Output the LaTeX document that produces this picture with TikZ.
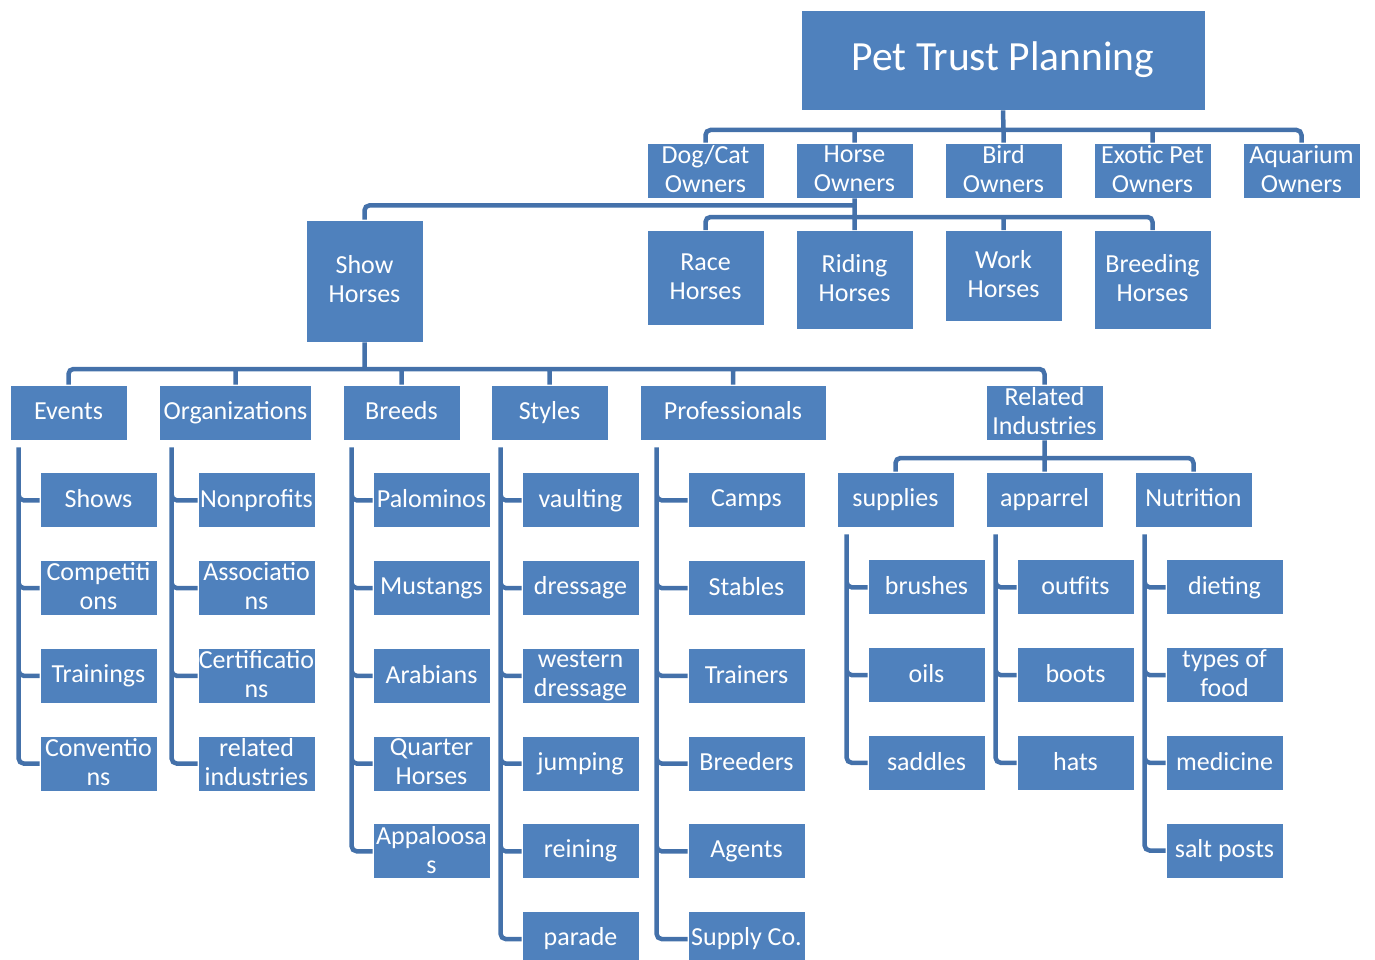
\documentclass[tikz,border=0pt]{standalone}
\usepackage{fontspec}
\setmainfont{Carlito}
\usetikzlibrary{positioning}
\definecolor{boxblue}{HTML}{4F81BD}
\definecolor{linkblue}{HTML}{4471AA}
\newcommand\boxstrut{\rule[-0.13em]{0pt}{0.77em}}

\begin{document}
\begin{tikzpicture}[x=1pt, y=-1pt,
    box/.style={draw=white, line width=0.75pt, fill=boxblue, text=white, align=center,
        inner sep=0pt, minimum width=117pt, minimum height=55pt,
        font=\fontsize{26}{29}\selectfont,
        execute at begin node=\boxstrut, execute at end node=\boxstrut},
    link/.style={draw=linkblue, line width=4.5pt, rounded corners=5pt}]
    \useasboundingbox (0,0) rectangle (1375,960);

    \node[box, minimum width=404pt, minimum height=100pt, font=\fontsize{41.5}{48}\selectfont] (pet) at (1003,60) {Pet Trust Planning};
    \node[box] (dogcat) at (705.5,170.5) {Dog/Cat\\Owners};
    \node[box, right=31.25pt of dogcat] (horse) {Horse\\Owners};
    \node[box, right=31.25pt of horse] (bird) {Bird\\Owners};
    \node[box, right=31.25pt of bird] (exotic) {Exotic Pet\\Owners};
    \node[box, right=31.25pt of exotic] (aquarium) {Aquarium\\Owners};

    \node[box, minimum height=122pt] (show) at (364.5,281) {Show\\Horses};
    \node[box, anchor=north, minimum height=95pt] (race) at (705.5,230) {Race\\Horses};
    \node[box, anchor=north, minimum height=99pt] (riding) at (854.5,230) {Riding\\Horses};
    \node[box, anchor=north, minimum height=91pt] (work) at (1003.5,230) {Work\\Horses};
    \node[box, anchor=north, minimum height=99pt] (breeding) at (1152.5,230) {Breeding\\Horses};

    \node[box] (events) at (68.5,412.5) {Events};
    \node[box, minimum width=152pt] (orgs) at (235.5,412.5) {Organizations};
    \node[box] (breeds) at (401.5,412.5) {Breeds};
    \node[box] (styles) at (549.5,412.5) {Styles};
    \node[box, minimum width=186pt] (pros) at (733,412.5) {Professionals};
    \node[box] (related) at (1044.5,412.5) {Related\\Industries};
    \node[box] (supplies) at (895.5,499.5) {supplies};
    \node[box] (apparrel) at (1044.5,499.5) {apparrel};
    \node[box] (nutrition) at (1193.5,499.5) {Nutrition};

    % events
    \node[box, below right=32pt and 30pt of events.south west] (shows) {Shows};
    \node[box, below=32pt of shows] (comps) {Competiti\\ons};
    \node[box, below=32pt of comps] (trainings) {Trainings};
    \node[box, below=32pt of trainings] (convs) {Conventio\\ns};
    % organizations
    \node[box, below right=32pt and 38.5pt of orgs.south west] (nonprofits) {Nonprofits};
    \node[box, below=32pt of nonprofits] (assocs) {Associatio\\ns};
    \node[box, below=32pt of assocs] (certs) {Certificatio\\ns};
    \node[box, below=32pt of certs] (relind) {related\\industries};
    % breeds
    \node[box, below right=32pt and 30pt of breeds.south west] (palominos) {Palominos};
    \node[box, below=32pt of palominos] (mustangs) {Mustangs};
    \node[box, below=32pt of mustangs] (arabians) {Arabians};
    \node[box, below=32pt of arabians] (quarter) {Quarter\\Horses};
    \node[box, below=32pt of quarter] (appaloosas) {Appaloosa\\s};
    % styles
    \node[box, below right=32pt and 31pt of styles.south west] (vaulting) {vaulting};
    \node[box, below=32pt of vaulting] (dressage) {dressage};
    \node[box, below=32pt of dressage] (western) {western\\dressage};
    \node[box, below=32pt of western] (jumping) {jumping};
    \node[box, below=32pt of jumping] (reining) {reining};
    \node[box, below=32pt of reining] (parade) {parade};
    % professionals
    \node[box, below right=32pt and 48pt of pros.south west] (camps) {Camps};
    \node[box, below=32pt of camps] (stables) {Stables};
    \node[box, below=32pt of stables] (trainers) {Trainers};
    \node[box, below=32pt of trainers] (breeders) {Breeders};
    \node[box, below=32pt of breeders] (agents) {Agents};
    \node[box, below=32pt of agents] (supplyco) {Supply Co.};
    % related industries
    \node[box, below right=32pt and 31pt of supplies.south west] (brushes) {brushes};
    \node[box, below=32pt of brushes] (oils) {oils};
    \node[box, below=32pt of oils] (saddles) {saddles};
    \node[box, below right=32pt and 31pt of apparrel.south west] (outfits) {outfits};
    \node[box, below=32pt of outfits] (boots) {boots};
    \node[box, below=32pt of boots] (hats) {hats};
    \node[box, below right=32pt and 31pt of nutrition.south west] (dieting) {dieting};
    \node[box, below=32pt of dieting] (food) {types of\\food};
    \node[box, below=32pt of food] (medicine) {medicine};
    \node[box, below=32pt of medicine] (saltposts) {salt posts};

    % buses
    \coordinate (topbus) at (1003.5,130);
    \coordinate (horsebus) at (854.5,217);
    \coordinate (showbus) at (364.5,369);
    \coordinate (relbus) at (1044.5,458);
    \draw[link] (pet.south) -- (topbus) (dogcat.north) |- (topbus) (aquarium.north) |- (topbus)
        (horse.north) -- (horse.north |- topbus) (bird.north) -- (bird.north |- topbus)
        (exotic.north) -- (exotic.north |- topbus);
    \draw[link] (horse.south) -- (riding.north) (race.north) |- (horsebus) (breeding.north) |- (horsebus)
        (work.north) -- (work.north |- horsebus);
    \draw[link] (show.north) |- ([yshift=-7pt]horse.south);
    \draw[link] (show.south) -- (showbus) (events.north) |- (showbus) (related.north) |- (showbus)
        (orgs.north) -- (orgs.north |- showbus) (breeds.north) -- (breeds.north |- showbus)
        (styles.north) -- (styles.north |- showbus) (pros.north) -- (pros.north |- showbus);
    \draw[link] (related.south) -- (apparrel.north) (supplies.north) |- (relbus) (nutrition.north) |- (relbus);

    % columns
    \coordinate (evbar) at ([xshift=9pt, yshift=-7pt]events.south west);
    \coordinate (orgbar) at ([xshift=12.5pt, yshift=-7pt]orgs.south west);
    \coordinate (brbar) at ([xshift=9pt, yshift=-7pt]breeds.south west);
    \coordinate (stbar) at ([xshift=10pt, yshift=-7pt]styles.south west);
    \coordinate (probar) at ([xshift=17pt, yshift=-7pt]pros.south west);
    \coordinate (supbar) at ([xshift=10pt, yshift=-7pt]supplies.south west);
    \coordinate (appbar) at ([xshift=10pt, yshift=-7pt]apparrel.south west);
    \coordinate (nutbar) at ([xshift=10pt, yshift=-7pt]nutrition.south west);
    \draw[link] (evbar) |- (shows.west) (evbar) |- (comps.west) (evbar) |- (trainings.west) (evbar) |- (convs.west);
    \draw[link] (orgbar) |- (nonprofits.west) (orgbar) |- (assocs.west) (orgbar) |- (certs.west) (orgbar) |- (relind.west);
    \draw[link] (brbar) |- (palominos.west) (brbar) |- (mustangs.west) (brbar) |- (arabians.west)
        (brbar) |- (quarter.west) (brbar) |- (appaloosas.west);
    \draw[link] (stbar) |- (vaulting.west) (stbar) |- (dressage.west) (stbar) |- (western.west)
        (stbar) |- (jumping.west) (stbar) |- (reining.west) (stbar) |- (parade.west);
    \draw[link] (probar) |- (camps.west) (probar) |- (stables.west) (probar) |- (trainers.west)
        (probar) |- (breeders.west) (probar) |- (agents.west) (probar) |- (supplyco.west);
    \draw[link] (supbar) |- (brushes.west) (supbar) |- (oils.west) (supbar) |- (saddles.west);
    \draw[link] (appbar) |- (outfits.west) (appbar) |- (boots.west) (appbar) |- (hats.west);
    \draw[link] (nutbar) |- (dieting.west) (nutbar) |- (food.west) (nutbar) |- (medicine.west) (nutbar) |- (saltposts.west);
\end{tikzpicture}
\end{document}
